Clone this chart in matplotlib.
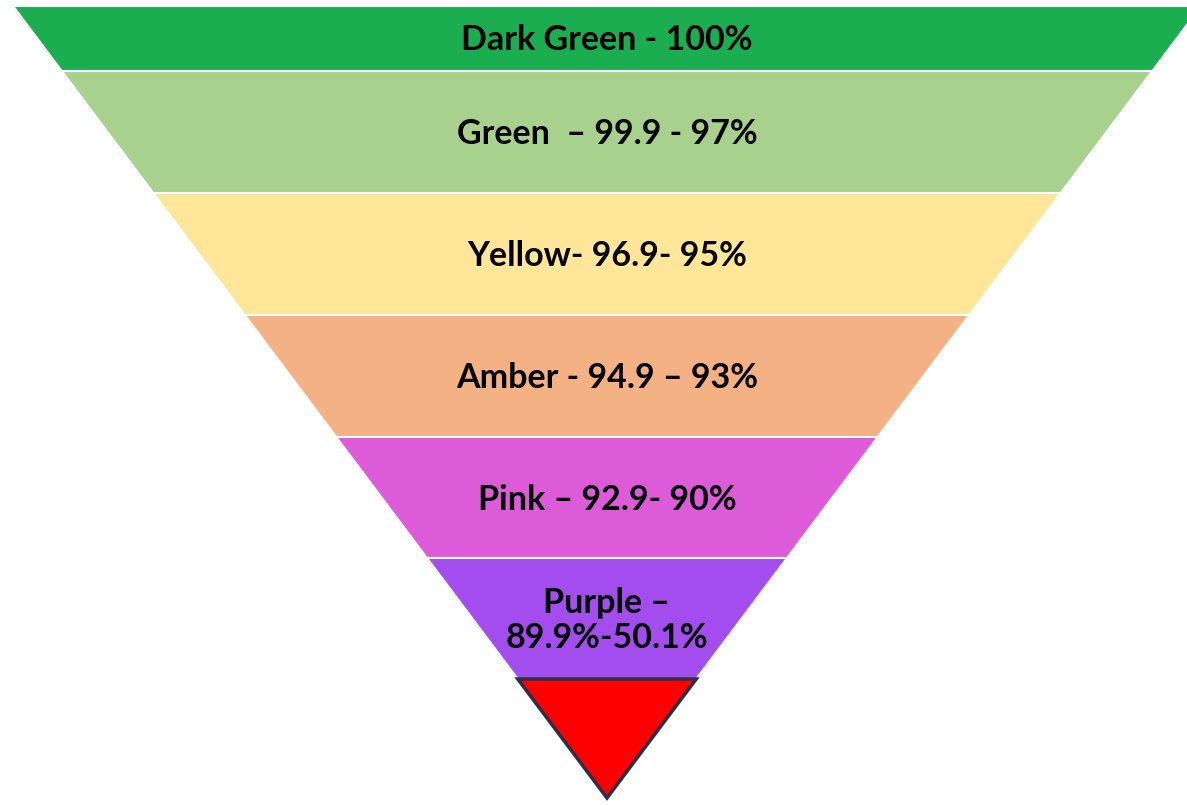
import matplotlib.pyplot as plt
from matplotlib.patches import Polygon

labels = ['Dark Green - 100%', 'Green  \u2013 99.9 - 97%', 'Yellow- 96.9- 95%',
          'Amber - 94.9 \u2013 93%', 'Pink \u2013 92.9- 90%',
          'Purple \u2013\n89.9%-50.1%', '']
colors = ['#1BAE50', '#A9D18E', '#FFE699', '#F4B183', '#DD5BD9', '#A34DEE', '#FF0000']
# band edges (top -> bottom), in pixel units of the figure
levels = [6, 71, 193, 315, 437, 558, 679, 798]

cx = 607
top_half = 594  # half width at the top edge
apex = levels[-1]


def half_width(y):
    return top_half * (apex - y) / (apex - levels[0])


fig = plt.figure(figsize=(11.87, 8.05), dpi=100)
ax = fig.add_axes([0, 0, 1, 1])
ax.set_xlim(0, 1187)
ax.set_ylim(805, 0)
ax.axis('off')

for i, (lab, col) in enumerate(zip(labels, colors)):
    y0, y1 = levels[i], levels[i + 1]
    w0, w1 = half_width(y0), half_width(y1)
    pts = [(cx - w0, y0), (cx + w0, y0), (cx + w1, y1), (cx - w1, y1)]
    if i == len(labels) - 1:
        poly = Polygon(pts, closed=True, facecolor=col, edgecolor='#2A2F4A', lw=2.5)
    else:
        poly = Polygon(pts, closed=True, facecolor=col, edgecolor='white', lw=1.5)
    ax.add_patch(poly)
    if lab:
        ax.text(cx, (y0 + y1) / 2 + 2, lab, ha='center', va='center',
                fontsize=24.5, fontweight='bold', family='Lato', color='black',
                linespacing=1.1)

fig.savefig('out.png', dpi=100)
